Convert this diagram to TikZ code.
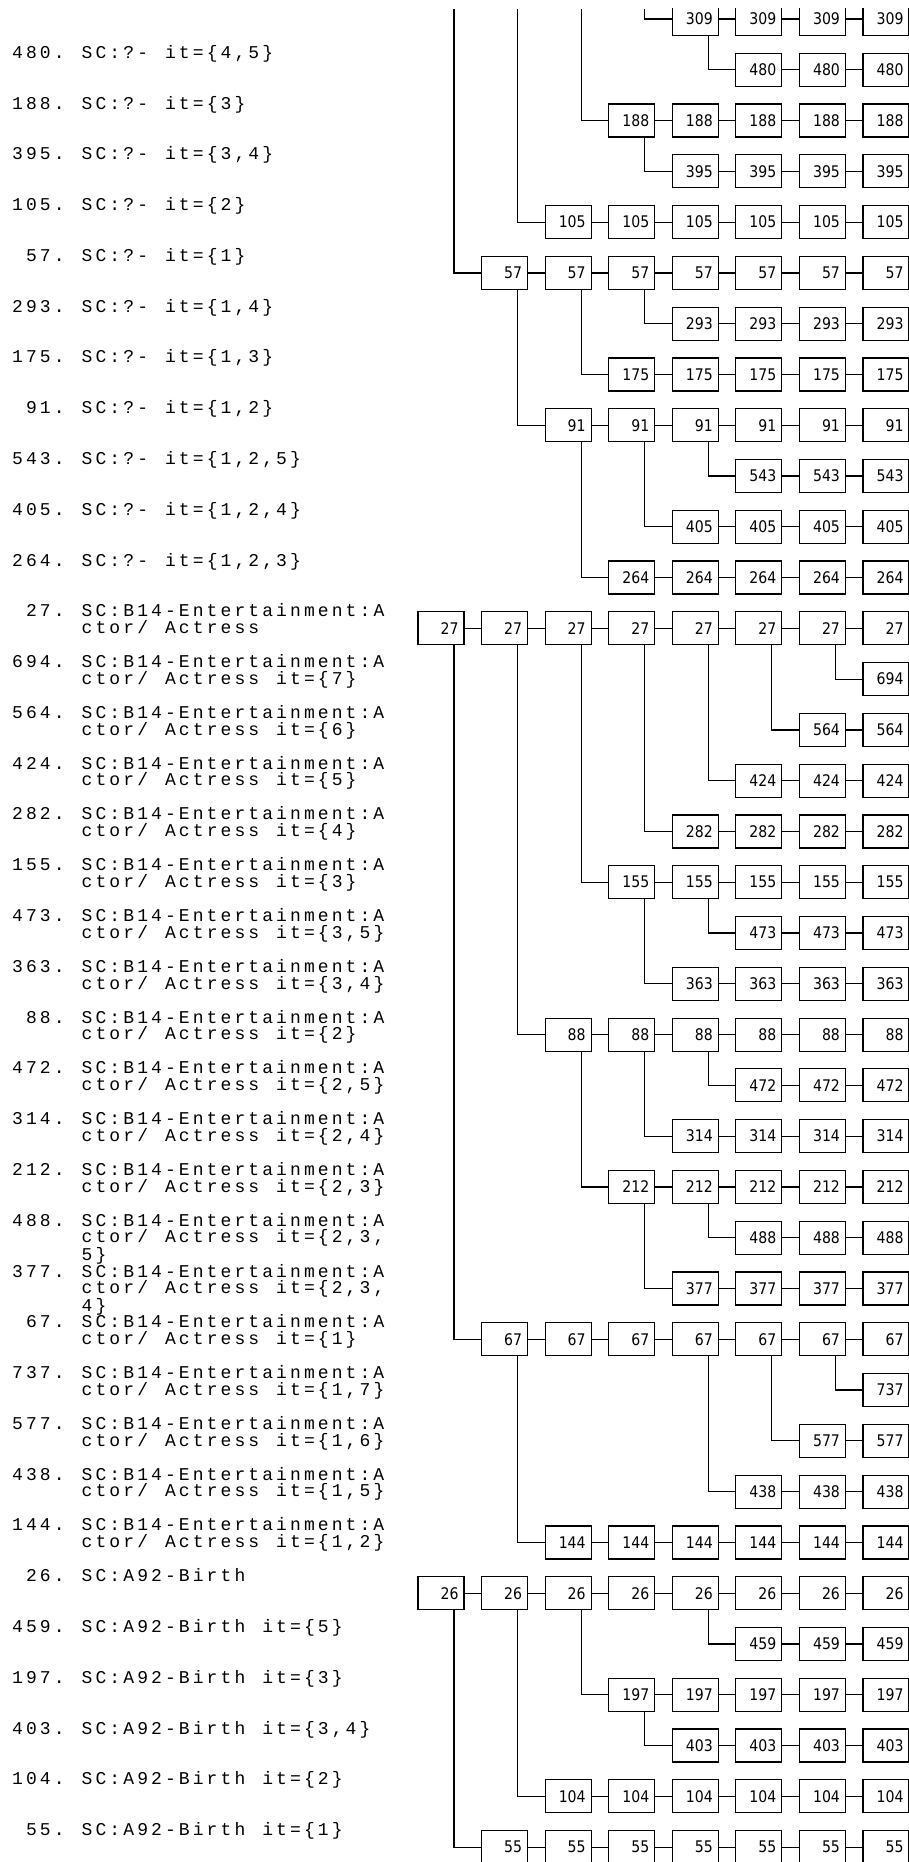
\documentclass[tikz,border=0pt]{standalone}
\usepackage{fontspec}
\newfontfamily\cellfont[FakeStretch=0.88]{DejaVu Sans}
\newfontfamily\lblfont[LetterSpace=17.2]{Liberation Mono}
\newcommand{\LBLFONT}{\lblfont\fontsize{18}{16.7}\selectfont\spaceskip=17pt\relax}
\newcommand{\NUM}[1]{\hbox to 69.5pt{#1.\hfill}}
\newcommand{\NUMB}[1]{\hbox to 69.5pt{\hspace{13.9pt}#1.\hfill}}
\newcommand{\IND}{\hbox to 69.5pt{}}
\newcommand{\LBL}[2]{\node[lbl] (t#1) at (12,{7.5+50.78*#1}) {\vtop{#2}};}
\newcommand{\CELLROW}[3]{%
  \foreach \c in {#3,...,8} {
    \node[cell] (b#1-\c) at ({441+63.57*(\c-1)},{19+50.78*#1}) {\hbox to 35pt{\hfill #2}};
    \ifnum\c>#3
      \pgfmathtruncatemacro{\p}{\c-1}
      \draw[wire] (b#1-\p.east) -- (b#1-\c.west);
    \fi
  }%
}

\begin{document}
\begin{tikzpicture}[x=1pt,y=-1pt,
    cell/.style={draw,line width=1.2pt,minimum width=46pt,minimum height=33pt,
      inner xsep=5.5pt,inner ysep=0pt,font=\cellfont\fontsize{16}{18}\selectfont},
    wire/.style={line width=1.2pt},
    lbl/.style={anchor=base west,inner sep=0pt,font=\LBLFONT}]
    \useasboundingbox (0,0) rectangle (909,1862);
    \clip (0,9) rectangle (909,1862);

    % rows of boxes: row/value/first column
    \foreach \r/\v/\s in {0/309/5, 1/480/6, 2/188/4, 3/395/5, 4/105/3, 5/57/2,
        6/293/5, 7/175/4, 8/91/3, 9/543/6, 10/405/5, 11/264/4, 12/27/1,
        13/694/8, 14/564/7, 15/424/6, 16/282/5, 17/155/4, 18/473/6,
        19/363/5, 20/88/3, 21/472/6, 22/314/5, 23/212/4, 24/488/6,
        25/377/5, 26/67/2, 27/737/8, 28/577/7, 29/438/6, 30/144/3,
        31/26/1, 32/459/6, 33/197/4, 34/403/5, 35/104/3, 36/55/2} {
        \CELLROW{\r}{\v}{\s}
    }

    % links: child/parent/column of parent box
    \foreach \ch/\pa/\k in {1/0/5, 3/2/4, 6/5/4, 7/5/3, 8/5/2, 9/8/5,
        10/8/4, 11/8/3, 13/12/7, 14/12/6, 15/12/5, 16/12/4, 17/12/3,
        18/17/5, 19/17/4, 20/12/2, 21/20/5, 22/20/4, 23/20/3, 24/23/5,
        25/23/4, 26/12/1, 27/26/7, 28/26/6, 29/26/5, 30/26/2, 32/31/5,
        33/31/3, 34/33/4, 35/31/2, 36/31/1} {
        \pgfmathtruncatemacro{\s}{\k+1}
        \draw[wire] ([xshift=13pt]b\pa-\k.south) |- (b\ch-\s.west);
    }

    % lines coming from above
    \foreach \k/\r in {1/5, 2/4, 3/2, 4/0} {
        \pgfmathtruncatemacro{\s}{\k+1}
        \coordinate (top\k) at ({454+63.57*(\k-1)},9);
        \draw[wire] (top\k) |- (b\r-\s.west);
    }

    % labels
    \LBL{1}{\hbox{\NUM{480}SC:?- it=\{4,5\}}}
    \LBL{2}{\hbox{\NUM{188}SC:?- it=\{3\}}}
    \LBL{3}{\hbox{\NUM{395}SC:?- it=\{3,4\}}}
    \LBL{4}{\hbox{\NUM{105}SC:?- it=\{2\}}}
    \LBL{5}{\hbox{\NUMB{57}SC:?- it=\{1\}}}
    \LBL{6}{\hbox{\NUM{293}SC:?- it=\{1,4\}}}
    \LBL{7}{\hbox{\NUM{175}SC:?- it=\{1,3\}}}
    \LBL{8}{\hbox{\NUMB{91}SC:?- it=\{1,2\}}}
    \LBL{9}{\hbox{\NUM{543}SC:?- it=\{1,2,5\}}}
    \LBL{10}{\hbox{\NUM{405}SC:?- it=\{1,2,4\}}}
    \LBL{11}{\hbox{\NUM{264}SC:?- it=\{1,2,3\}}}
    \LBL{12}{\hbox{\NUMB{27}SC:B14-Entertainment:A}\hbox{\IND ctor/ Actress}}
    \LBL{13}{\hbox{\NUM{694}SC:B14-Entertainment:A}\hbox{\IND ctor/ Actress it=\{7\}}}
    \LBL{14}{\hbox{\NUM{564}SC:B14-Entertainment:A}\hbox{\IND ctor/ Actress it=\{6\}}}
    \LBL{15}{\hbox{\NUM{424}SC:B14-Entertainment:A}\hbox{\IND ctor/ Actress it=\{5\}}}
    \LBL{16}{\hbox{\NUM{282}SC:B14-Entertainment:A}\hbox{\IND ctor/ Actress it=\{4\}}}
    \LBL{17}{\hbox{\NUM{155}SC:B14-Entertainment:A}\hbox{\IND ctor/ Actress it=\{3\}}}
    \LBL{18}{\hbox{\NUM{473}SC:B14-Entertainment:A}\hbox{\IND ctor/ Actress it=\{3,5\}}}
    \LBL{19}{\hbox{\NUM{363}SC:B14-Entertainment:A}\hbox{\IND ctor/ Actress it=\{3,4\}}}
    \LBL{20}{\hbox{\NUMB{88}SC:B14-Entertainment:A}\hbox{\IND ctor/ Actress it=\{2\}}}
    \LBL{21}{\hbox{\NUM{472}SC:B14-Entertainment:A}\hbox{\IND ctor/ Actress it=\{2,5\}}}
    \LBL{22}{\hbox{\NUM{314}SC:B14-Entertainment:A}\hbox{\IND ctor/ Actress it=\{2,4\}}}
    \LBL{23}{\hbox{\NUM{212}SC:B14-Entertainment:A}\hbox{\IND ctor/ Actress it=\{2,3\}}}
    \LBL{24}{\hbox{\NUM{488}SC:B14-Entertainment:A}\hbox{\IND ctor/ Actress it=\{2,3,}\hbox{\IND 5\}}}
    \LBL{25}{\hbox{\NUM{377}SC:B14-Entertainment:A}\hbox{\IND ctor/ Actress it=\{2,3,}\hbox{\IND 4\}}}
    \LBL{26}{\hbox{\NUMB{67}SC:B14-Entertainment:A}\hbox{\IND ctor/ Actress it=\{1\}}}
    \LBL{27}{\hbox{\NUM{737}SC:B14-Entertainment:A}\hbox{\IND ctor/ Actress it=\{1,7\}}}
    \LBL{28}{\hbox{\NUM{577}SC:B14-Entertainment:A}\hbox{\IND ctor/ Actress it=\{1,6\}}}
    \LBL{29}{\hbox{\NUM{438}SC:B14-Entertainment:A}\hbox{\IND ctor/ Actress it=\{1,5\}}}
    \LBL{30}{\hbox{\NUM{144}SC:B14-Entertainment:A}\hbox{\IND ctor/ Actress it=\{1,2\}}}
    \LBL{31}{\hbox{\NUMB{26}SC:A92-Birth}}
    \LBL{32}{\hbox{\NUM{459}SC:A92-Birth it=\{5\}}}
    \LBL{33}{\hbox{\NUM{197}SC:A92-Birth it=\{3\}}}
    \LBL{34}{\hbox{\NUM{403}SC:A92-Birth it=\{3,4\}}}
    \LBL{35}{\hbox{\NUM{104}SC:A92-Birth it=\{2\}}}
    \LBL{36}{\hbox{\NUMB{55}SC:A92-Birth it=\{1\}}}
\end{tikzpicture}
\end{document}
